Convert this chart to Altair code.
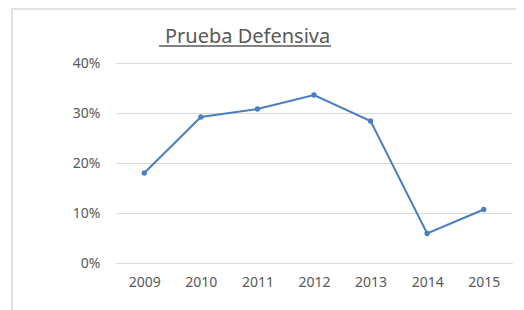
import altair as alt
import pandas as pd

years = ["2009", "2010", "2011", "2012", "2013", "2014", "2015"]
values = [0.180, 0.292, 0.308, 0.336, 0.284, 0.059, 0.107]
title_text = "Prueba Defensiva"

df = pd.DataFrame({"year": years, "value": values})

FONT = "Noto Sans"
GRAY = "#595959"
GRID = "#d9d9d9"
BLUE = "#4a7ebf"

base = alt.Chart(df).encode(
    x=alt.X("year:O", sort=years,
            scale=alt.Scale(padding=0.5),
            axis=alt.Axis(title=None, labelAngle=0, ticks=False, domainColor=GRID,
                          domainWidth=1, labelColor=GRAY, labelFont=FONT,
                          labelFontSize=14, labelPadding=12, grid=False)),
    y=alt.Y("value:Q", scale=alt.Scale(domain=[0, 0.4]),
            axis=alt.Axis(title=None, values=[0, 0.1, 0.2, 0.3, 0.4], format=".0%",
                          ticks=False, domain=False, gridColor=GRID, gridWidth=1,
                          labelColor=GRAY, labelFont=FONT, labelFontSize=14,
                          labelPadding=16)),
)

line = base.mark_line(color=BLUE, strokeWidth=2)
pts = base.mark_point(color=BLUE, filled=True, size=28, opacity=1)

deco = alt.Data(values=[{"t": title_text}])

frame = alt.Chart(deco).mark_rect(fill=None, stroke=GRID, strokeWidth=1.5).encode(
    x=alt.value(-104), x2=alt.value(700), y=alt.value(-54), y2=alt.value(500)
)

title = alt.Chart(deco).mark_text(
    align="left", baseline="alphabetic", font=FONT, fontSize=20, color=GRAY
).encode(text="t:N", x=alt.value(49), y=alt.value(-20))

underline = alt.Chart(deco).mark_rule(color=GRAY, strokeWidth=1.3).encode(
    x=alt.value(43), x2=alt.value(215), y=alt.value(-17)
)

chart = alt.layer(frame, line, pts, title, underline).properties(
    width=396, height=200,
    padding={"left": 108, "top": 55, "right": 4, "bottom": 50},
    autosize=alt.AutoSizeParams(type="none"),
    background="white",
).configure_view(stroke=None)

chart.save("out.html", embed_options={"renderer": "svg", "actions": False})
